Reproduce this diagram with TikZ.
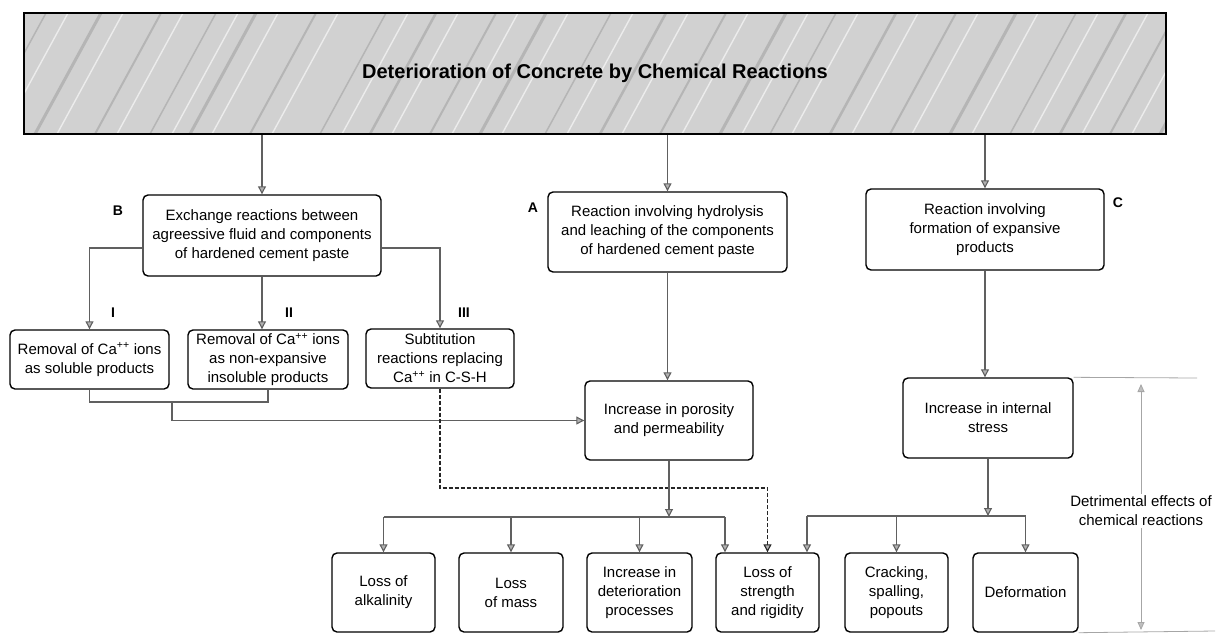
\documentclass[tikz,border=0pt]{standalone}
\usepackage{fontspec}
\setmainfont{Liberation Sans}
\usetikzlibrary{arrows.meta,calc}
\begin{document}
\begin{tikzpicture}[x=1pt,y=-1pt,
  box/.style={draw=black,line width=1.4pt,rounded corners=5pt,fill=white,align=center,inner sep=0pt,font=\fontsize{15}{19}\selectfont},
  arr/.style={draw=gray!75!black,line width=1.1pt,-{Triangle[width=8pt,length=8pt,fill=gray!60]}},
  ln/.style={draw=gray!75!black,line width=1.1pt},
  dln/.style={draw=gray!30!black,line width=1.1pt,dash pattern=on 4pt off 2pt},
  darr/.style={dln,-{Triangle[width=8pt,length=8pt,fill=gray!60]}},
  thin/.style={draw=gray!70,line width=0.8pt},
  tarr/.style={thin,-{Triangle[width=7pt,length=8pt,fill=gray!50]}},
  lab/.style={font=\fontsize{14}{16}\selectfont\bfseries},
]
\useasboundingbox (0,0) rectangle (1219,633);

% banner
\fill[gray!36] (24,13) rectangle (1166,134);
\begin{scope}
\clip (24,13) rectangle (1166,134);
\foreach \x/\w in {-70/2.5,-20/1.5,35/3,95/2,150/1.5,190/3,250/2,320/1.5,370/2.5,430/2,480/3,545/1.5,600/2.5,660/2,720/3,770/1.5,830/2.5,890/2,950/3,1010/1.5,1060/2.5,1110/2,1160/3} {
  \draw[gray!58,line width=\w pt] (\x,134) -- ++(66,-121);
  \draw[gray!15,line width=1.4pt] (\x+22,134) -- ++(66,-121);
}
\end{scope}
\node[draw=black,line width=1.6pt,minimum width=1142pt,minimum height=121pt,inner sep=0pt,
      font=\fontsize{20}{24}\selectfont\bfseries] (T) at (595,73.5) {Deterioration of Concrete by Chemical Reactions};

% second row
\node[box,minimum width=238pt,minimum height=81pt] (B) at (262,235.5)
  {Exchange reactions between\\agreessive fluid and components\\of hardened cement paste};
\node[box,minimum width=239pt,minimum height=80pt] (A) at (667.5,232)
  {Reaction involving hydrolysis\\and leaching of the components\\of hardened cement paste};
\node[box,minimum width=238pt,minimum height=81pt] (C) at (985,229.5)
  {Reaction involving\\formation of expansive\\products};
\node[lab] (lB) at (118,211) {B};
\node[lab] (lA) at (533,208) {A};
\node[lab] (lC) at (1118,203) {C};

% third row
\node[box,minimum width=159pt,minimum height=59pt] (I) at (89.5,359.5)
  {Removal of Ca\textsuperscript{++} ions\\as soluble products};
\node[box,minimum width=160pt,minimum height=59pt] (II) at (268,359.5)
  {Removal of Ca\textsuperscript{++} ions\\as non-expansive\\insoluble products};
\node[box,minimum width=148pt,minimum height=59pt] (III) at (440,358.5)
  {Subtitution\\reactions replacing\\Ca\textsuperscript{++} in C-S-H};
\node[lab] (lI) at (113,313) {I};
\node[lab] (lII) at (289,313) {II};
\node[lab] (lIII) at (464,313) {III};

% fourth row
\node[box,minimum width=168pt,minimum height=79pt] (P) at (669,420.5)
  {Increase in porosity\\and permeability};
\node[box,minimum width=170pt,minimum height=80pt] (S) at (988,418)
  {Increase in internal\\stress};

% bottom row
\node[box,minimum width=103pt,minimum height=79pt] (alk) at (383.5,592.5) {Loss of\\alkalinity};
\node[box,minimum width=104pt,minimum height=79pt] (mass) at (511,592.5) {Loss\\of mass};
\node[box,minimum width=105pt,minimum height=79pt] (det) at (639.5,592.5) {Increase in\\deterioration\\processes};
\node[box,minimum width=103pt,minimum height=79pt] (str) at (767.5,592.5) {Loss of\\strength\\and rigidity};
\node[box,minimum width=103pt,minimum height=79pt] (crk) at (896.5,592.5) {Cracking,\\spalling,\\popouts};
\node[box,minimum width=105pt,minimum height=79pt] (dfm) at (1025.5,592.5) {Deformation};

% connectors from banner
\draw[arr] (B.north |- T.south) -- (B.north);
\draw[arr] (A.north |- T.south) -- (A.north);
\draw[arr] (C.north |- T.south) -- (C.north);

% B branches
\draw[arr] ([yshift=-12.5pt]B.west) -| (I.north);
\draw[arr] (B.south) -- (B.south |- II.north);
\draw[arr] ([yshift=-12.5pt]B.east) -| (III.north);

% I, II to porosity
\coordinate (mIJ) at (172,402);
\draw[ln] (I.south) |- (mIJ) -| (II.south);
\draw[arr] (mIJ) |- (P.west);

% III dashed to strength
\coordinate (dd) at (440,488);
\draw[darr] (III.south) -- (dd) -| (str.north);

% A and C down
\draw[arr] (A.south) -- (A.south |- P.north);
\draw[arr] (C.south) -- (C.south |- S.north);

% porosity branch
\coordinate (jP) at (669,517);
\coordinate (sL) at (725,517);
\draw[arr] (P.south) -- (jP);
\draw[ln] (alk.north |- jP) -- (sL);
\draw[arr] (alk.north |- jP) -- (alk.north);
\draw[arr] (mass.north |- jP) -- (mass.north);
\draw[arr] (det.north |- jP) -- (det.north);
\draw[arr] (sL) -- (sL |- str.north);

% stress branch
\coordinate (jS) at (988,516);
\coordinate (sR) at (807,516);
\draw[arr] (S.south) -- (jS);
\draw[ln] (sR) -- (dfm.north |- jS);
\draw[arr] (sR) -- (sR |- str.north);
\draw[arr] (crk.north |- jS) -- (crk.north);
\draw[arr] (dfm.north |- jS) -- (dfm.north);

% detrimental effects annotation
\coordinate (topR) at (1197,378);
\coordinate (botR) at (1215,631);
\draw[thin] (S.north east) -- (topR);
\draw[thin] (dfm.south east) -- (botR);
\node[font=\fontsize{15}{19}\selectfont,align=center,inner sep=2pt] (eff) at (1141,511)
  {Detrimental effects of\\chemical reactions};
\draw[tarr] (eff.north) -- (1141,384);
\draw[tarr] (eff.south) -- (1141,630);
\end{tikzpicture}
\end{document}
